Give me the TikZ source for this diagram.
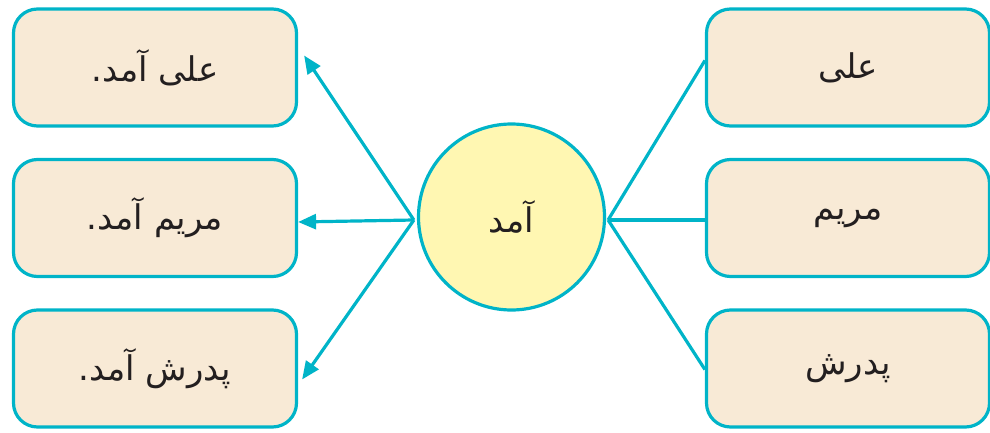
\documentclass[tikz,border=0pt]{standalone}
\usepackage{fontspec}
\usepackage{tikz}
\usetikzlibrary{arrows.meta,positioning}
\newfontfamily\arabicfont[Script=Arabic]{DejaVu Sans}
\TeXXeTstate=1
\definecolor{edgecyan}{HTML}{00B4C8}
\definecolor{boxfill}{HTML}{F8EAD6}
\definecolor{verbfill}{HTML}{FFF7B2}
\definecolor{inkblack}{HTML}{231F20}

\begin{document}
\begin{tikzpicture}[x=0.5pt, y=-0.5pt]
				\tikzstyle{Word}	= [draw=edgecyan, line width=1.6pt, fill=boxfill, rounded corners=12pt, minimum width=141.5pt, minimum height=58.5pt, inner sep=0pt, text=inkblack, font=\arabicfont\fontsize{17}{20}\selectfont]
				\tikzstyle{Verb}	= [circle, draw=edgecyan, line width=1.6pt, fill=verbfill, minimum size=93pt, inner sep=0pt, text=inkblack, font=\arabicfont\fontsize{17}{20}\selectfont]
				\tikzstyle{Link}	= [edgecyan, line width=1.6pt, line join=round]
				\tikzstyle{Arr}		= [Link, -{Triangle[length=9pt, width=7.5pt]}]

				\useasboundingbox (0,0) rectangle (990,433);

				\node (ali)    at (848,67.5) [Word] {\beginR علی\endR};
				\node (maryam) at (848,218)  [Word] {\beginR مریم\endR};
				\node (pedar)  at (848,368.5) [Word] {\beginR پدرش\endR};

				\node (verb) at (511.5,217) [Verb] {\beginR آمد\endR};

				\node (s1) at (155,67.5)  [Word] {\beginR علی آمد.\endR};
				\node (s2) at (155,218)   [Word] {\beginR مریم آمد.\endR};
				\node (s3) at (155,368.5) [Word] {\beginR پدرش آمد.\endR};

				\draw [Link] ([yshift=3.5pt]ali.west) -- ([xshift=1pt,yshift=-1.5pt]verb.east);
				\draw [Link] ([yshift=-1pt]maryam.west) -- ([xshift=1pt,yshift=-1.5pt]verb.east);
				\draw [Link] ([yshift=-0.5pt]pedar.west) -- ([xshift=1pt,yshift=-1.5pt]verb.east);

				\draw [Arr] ([xshift=-1.5pt,yshift=-1.5pt]verb.west) -- ([xshift=3pt,yshift=6pt]s1.east);
				\draw [Arr] ([xshift=-1.5pt,yshift=-1.5pt]verb.west) -- ([yshift=-2pt]s2.east);
				\draw [Arr] ([xshift=-1.5pt,yshift=-1.5pt]verb.west) -- ([xshift=2pt,yshift=-5.5pt]s3.east);
			\end{tikzpicture}
\end{document}
